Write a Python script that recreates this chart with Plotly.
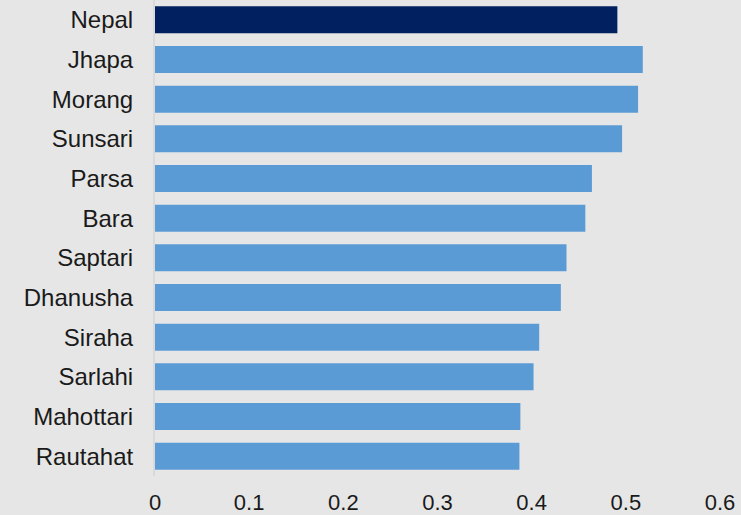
import plotly.graph_objects as go

categories = ["Nepal", "Jhapa", "Morang", "Sunsari", "Parsa", "Bara", "Saptari",
              "Dhanusha", "Siraha", "Sarlahi", "Mahottari", "Rautahat"]
values = [0.491, 0.518, 0.513, 0.496, 0.464, 0.457, 0.437, 0.431, 0.408, 0.402, 0.388, 0.387]
bar_colors = ["#002060"] + ["#5b9bd5"] * 11
x_ticks = [0, 0.1, 0.2, 0.3, 0.4, 0.5, 0.6]
x_tick_labels = ["0", "0.1", "0.2", "0.3", "0.4", "0.5", "0.6"]

fig = go.Figure(go.Bar(
    x=values,
    y=categories,
    orientation="h",
    marker=dict(color=bar_colors, line=dict(width=0)),
))

fig.update_layout(
    width=741, height=515,
    margin=dict(l=155, r=21, t=0, b=39),
    paper_bgcolor="#e6e6e6",
    plot_bgcolor="#e6e6e6",
    bargap=0.32,
    showlegend=False,
    font=dict(family="Liberation Sans, Arial, sans-serif", color="#1a1a1a"),
)
fig.update_xaxes(
    range=[0, 0.6],
    tickvals=x_ticks,
    ticktext=x_tick_labels,
    showgrid=False,
    zeroline=False,
    showline=False,
    tickfont=dict(size=22),
    ticklabelstandoff=11,
    automargin=False,
)
fig.update_yaxes(
    categoryorder="array",
    categoryarray=categories[::-1],
    showgrid=False,
    zeroline=False,
    showline=True,
    linecolor="#d9d9d9",
    linewidth=2,
    tickfont=dict(size=24),
    ticklabelstandoff=15,
    automargin=False,
)

fig.write_html(
    "out.html",
    config={"displayModeBar": False},
    post_script="document.body.style.margin='0';document.body.style.overflow='hidden';document.body.style.background='#e6e6e6';",
)
